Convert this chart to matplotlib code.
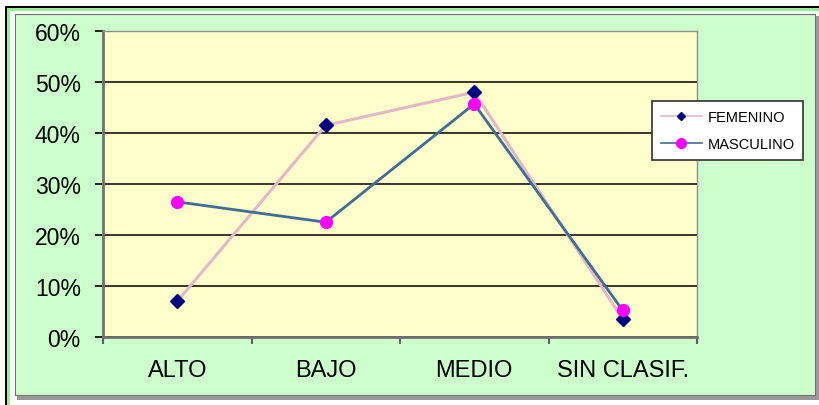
import matplotlib.pyplot as plt
from matplotlib.patches import Rectangle
from matplotlib.lines import Line2D
from matplotlib.ticker import FixedLocator, PercentFormatter

categorias = ["ALTO", "BAJO", "MEDIO", "SIN CLASIF."]
femenino = [7.0, 41.5, 48.0, 3.5]
masculino = [26.5, 22.5, 45.7, 5.2]

plt.rcParams['font.family'] = ['Liberation Sans', 'DejaVu Sans']

W, H = 819, 406
fig = plt.figure(figsize=(W / 100, H / 100), dpi=100, facecolor="white")

def px(x0, y0, x1, y1):
    # rectangulo en pixeles (origen arriba a la izquierda)
    return (x0 / W, 1 - y1 / H), (x1 - x0) / W, (y1 - y0) / H

# bordes del fondo (detras de los ejes)
for (xy, w, h), fc in [(px(5, 7, 819, 406), "black"),
                       (px(7, 9, 819, 406), "#99ee99"),
                       (px(10, 12, 819, 406), "white"),
                       (px(17, 17, 819, 401), "#999999"),
                       (px(15, 15, 816, 397), "#707070"),
                       (px(16, 16, 815, 396), "#ccffcc")]:
    fig.patches.append(Rectangle(xy, w, h, transform=fig.transFigure,
                                 facecolor=fc, edgecolor="none", zorder=-10))

x0, y0, x1, y1 = 103, 32, 697, 338
ax = fig.add_axes([x0 / W, 1 - y1 / H, (x1 - x0) / W, (y1 - y0) / H])
ax.set_facecolor("#ffffcc")

x = list(range(len(categorias)))
ax.plot(x, femenino, color="#e3b8c6", lw=2.2, marker="D", ms=7.5,
        mfc="#000080", mec="#000080", zorder=3)
ax.plot(x, masculino, color="#3f6d96", lw=2.0, marker="o", ms=8.5,
        mfc="#ff00ff", mec="#ff00ff", zorder=4)

ax.set_xlim(-0.5, len(categorias) - 0.5)
ax.set_ylim(0, 60)
ax.set_yticks(range(0, 61, 10))
ax.yaxis.set_major_formatter(PercentFormatter(decimals=0))
ax.set_xticks(x)
ax.set_xticklabels(categorias)
ax.xaxis.set_minor_locator(FixedLocator([-0.5, 0.5, 1.5, 2.5, 3.5]))
ax.tick_params(axis="x", which="major", length=0, pad=16, labelsize=17)
ax.tick_params(axis="x", which="minor", length=5, width=1.5, color="#606060")
ax.tick_params(axis="y", length=6, width=1.2, color="black", pad=10, labelsize=16.5)

ax.grid(axis="y", color="black", lw=1.1, zorder=1)
ax.set_axisbelow(True)
for s in ["left", "bottom"]:
    ax.spines[s].set_color("#707070")
    ax.spines[s].set_linewidth(2)
for s in ["top", "right"]:
    ax.spines[s].set_color("#909090")
    ax.spines[s].set_linewidth(1)

handles = [Line2D([], [], color="#e3b8c6", lw=1.2, marker="D", ms=4.5,
                  mfc="#000080", mec="#000080"),
           Line2D([], [], color="#3f6d96", lw=1.2, marker="o", ms=7,
                  mfc="#ff00ff", mec="#ff00ff")]
leg = fig.legend(handles, ["FEMENINO", "MASCULINO"], loc="upper left",
                 bbox_to_anchor=(652 / W, 1 - 102 / H), fontsize=10.5,
                 frameon=True, fancybox=False, edgecolor="#303030",
                 facecolor="white", framealpha=1,
                 handlelength=2.8, labelspacing=0.9, borderpad=0.6,
                 handletextpad=0.4, borderaxespad=0)
leg.get_frame().set_linewidth(1.2)

fig.savefig("out.png", dpi=100, facecolor=fig.get_facecolor())
